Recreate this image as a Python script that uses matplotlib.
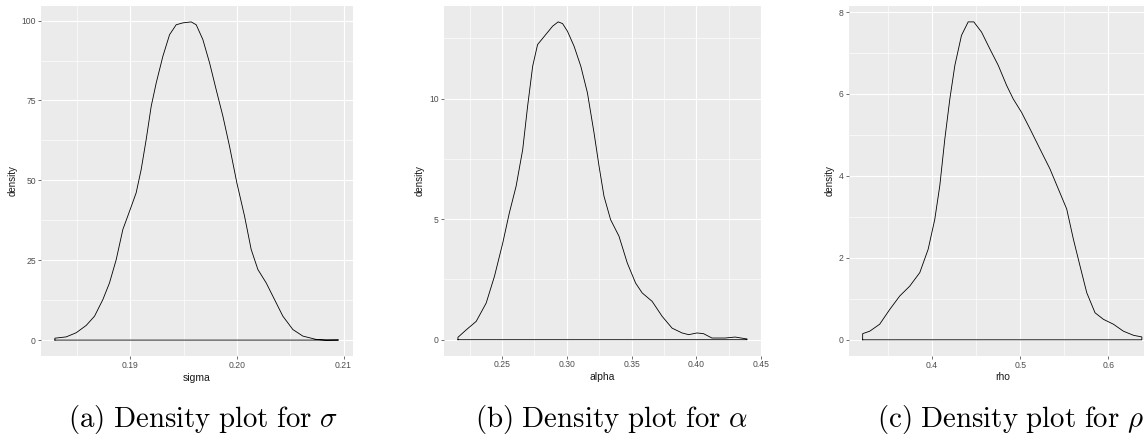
import matplotlib.pyplot as plt
import numpy as np

# density curves (x, density)
sigma_x = [0.18294, 0.1840, 0.18494, 0.18588, 0.18666, 0.18744, 0.18806, 0.18869, 0.18931, 0.1900,
           0.19056, 0.19103, 0.1915, 0.19197, 0.19244, 0.19306, 0.19369, 0.19431, 0.19494, 0.19572,
           0.19619, 0.19681, 0.19744, 0.19806, 0.19869, 0.19931, 0.2000, 0.20072, 0.20134, 0.20197,
           0.20275, 0.20353, 0.20431, 0.20525, 0.20619, 0.20744, 0.20838, 0.20953]
sigma_y = [0.6, 1.0, 2.3, 4.6, 7.5, 12.7, 17.9, 25.2, 34.6, 40.9,
           46.1, 53.4, 62.8, 73.2, 80.5, 88.8, 95.6, 98.7, 99.3, 99.6,
           98.7, 94.1, 86.8, 78.4, 70.1, 60.7, 49.2, 38.8, 28.4, 22.1,
           17.9, 12.7, 7.5, 3.3, 1.25, 0.2, 0.0, 0.05]

alpha_x = [0.2159, 0.2223, 0.2300, 0.2377, 0.2441, 0.2505, 0.2556, 0.2608, 0.2659, 0.2697,
           0.2736, 0.2774, 0.2838, 0.2890, 0.2933, 0.2967, 0.3005, 0.3056, 0.3108, 0.3159,
           0.3210, 0.3249, 0.3287, 0.3338, 0.3403, 0.3467, 0.3531, 0.3582, 0.3659, 0.3736,
           0.3813, 0.3890, 0.3941, 0.4005, 0.4056, 0.4121, 0.4223, 0.4300, 0.4392]
alpha_y = [0.1, 0.41, 0.76, 1.52, 2.63, 4.01, 5.26, 6.36, 7.88, 9.68,
           11.34, 12.24, 12.66, 13.0, 13.18, 13.11, 12.79, 12.17, 11.34, 10.24,
           8.58, 7.19, 5.95, 4.98, 4.29, 3.18, 2.35, 1.94, 1.59, 0.97,
           0.48, 0.28, 0.21, 0.28, 0.25, 0.07, 0.07, 0.11, 0.03]

rho_x = [0.3212, 0.3292, 0.3405, 0.3519, 0.3633, 0.3746, 0.3860, 0.3955, 0.4030, 0.4087,
         0.4144, 0.4201, 0.4258, 0.4333, 0.4409, 0.4473, 0.4561, 0.4655, 0.4750, 0.4845,
         0.4920, 0.5015, 0.5110, 0.5223, 0.5337, 0.5432, 0.5527, 0.5602, 0.5678, 0.5754,
         0.5848, 0.5943, 0.6057, 0.6170, 0.6284, 0.6379]
rho_y = [0.15, 0.21, 0.38, 0.74, 1.07, 1.31, 1.64, 2.21, 2.94, 3.76,
         4.90, 5.88, 6.70, 7.43, 7.76, 7.76, 7.51, 7.10, 6.70, 6.21,
         5.88, 5.55, 5.15, 4.66, 4.17, 3.68, 3.19, 2.46, 1.80, 1.15,
         0.66, 0.50, 0.38, 0.21, 0.11, 0.07]

var_names = ["sigma", "alpha", "rho"]
captions = [r"$\mathrm{(a)\ Density\ plot\ for}\ \sigma$",
            r"$\mathrm{(b)\ Density\ plot\ for}\ \alpha$",
            r"$\mathrm{(c)\ Density\ plot\ for}\ \rho$"]
x_major = [[0.19, 0.20, 0.21], [0.25, 0.30, 0.35, 0.40, 0.45], [0.4, 0.5, 0.6]]
x_labels = [["0.19", "0.20", "0.21"], ["0.25", "0.30", "0.35", "0.40", "0.45"], ["0.4", "0.5", "0.6"]]
y_major = [[0, 25, 50, 75, 100], [0, 5, 10], [0, 2, 4, 6, 8]]

W, H = 1144, 434
# panel boxes in pixels: left, right, top, bottom
boxes = [(40.7, 352.7, 6, 356), (443.5, 761.5, 6, 355.6), (848.7, 1155.8, 6, 355.7)]
caption_x = [68, 475, 877]

plt.rcParams['font.family'] = ['Liberation Sans', 'DejaVu Sans']
plt.rcParams['mathtext.fontset'] = 'cm'

fig = plt.figure(figsize=(W / 100, H / 100), dpi=100)

datasets = [(sigma_x, sigma_y), (alpha_x, alpha_y), (rho_x, rho_y)]

for i, (xs, ys) in enumerate(datasets):
    l, r, t, b = boxes[i]
    ax = fig.add_axes([l / W, (H - b) / H, (r - l) / W, (b - t) / H])
    ax.set_facecolor('#EBEBEB')
    for s in ax.spines.values():
        s.set_visible(False)

    xm = x_major[i]
    ym = y_major[i]
    ax.set_xticks(xm)
    ax.set_xticklabels(x_labels[i])
    ax.set_yticks(ym)
    ax.set_xticks([(a + c) / 2 for a, c in zip([2 * xm[0] - xm[1]] + xm, xm + [2 * xm[-1] - xm[-2]])], minor=True)
    ax.set_yticks([(a + c) / 2 for a, c in zip(ym[:-1], ym[1:])] + [ym[-1] + (ym[1] - ym[0]) / 2], minor=True)
    ax.grid(which='major', color='white', linewidth=0.85)
    ax.grid(which='minor', color='white', linewidth=0.45)
    ax.set_axisbelow(True)
    ax.tick_params(which='major', length=2, width=0.5, color='#333333', labelsize=6.2,
                   labelcolor='#4D4D4D', pad=1.5)
    ax.tick_params(which='minor', length=0)

    px = [xs[0]] + list(xs) + [xs[-1], xs[0]]
    py = [0] + list(ys) + [0, 0]
    ax.plot(px, py, color='black', linewidth=0.6)

    # ggplot style 5% expansion (set after ticks so they do not widen the view)
    xr = xs[-1] - xs[0]
    ax.set_xlim(xs[0] - 0.05 * xr, xs[-1] + 0.05 * xr)
    ymax = max(ys)
    ax.set_ylim(-0.05 * ymax, ymax * 1.05)

    ax.set_xlabel(var_names[i], fontsize=7.5, color='#1A1A1A', labelpad=2)
    ax.set_ylabel("density", fontsize=7, color='#1A1A1A', labelpad=3)

    fig.text(caption_x[i] / W, (H - 427) / H, captions[i], fontsize=20.8, ha='left', va='baseline')

fig.savefig('out.png', dpi=100)
